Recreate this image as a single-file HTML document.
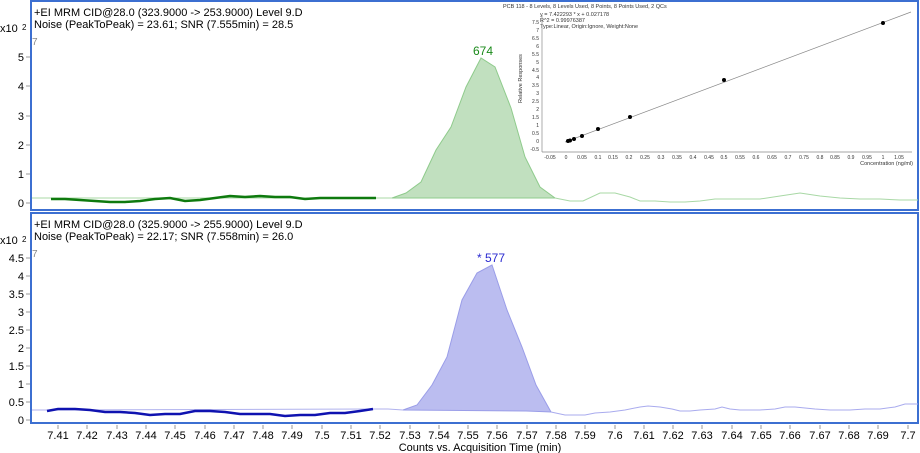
<!DOCTYPE html>
<html><head><meta charset="utf-8"><style>
html,body{margin:0;padding:0;background:#fff;}
svg{display:block;font-family:"Liberation Sans",sans-serif;}
</style></head><body>
<svg width="920" height="453" viewBox="0 0 920 453" xmlns="http://www.w3.org/2000/svg">
<rect width="920" height="453" fill="#fff"/>
<rect x="31" y="1" width="887" height="209" fill="none" stroke="#3c6fd1" stroke-width="2"/>
<rect x="31" y="213" width="887" height="210" fill="none" stroke="#3c6fd1" stroke-width="2"/>

<text x="34" y="16" font-size="11">+EI MRM CID@28.0 (323.9000 -&gt; 253.9000) Level 9.D</text>
<text x="34" y="28" font-size="11">Noise (PeakToPeak) = 23.61; SNR (7.555min) = 28.5</text>
<text x="0" y="32" font-size="11">x10</text><text x="22" y="30" font-size="8">2</text>
<text x="32" y="45" font-size="10" fill="#888">7</text>
<g font-size="11" text-anchor="end">
<text x="24" y="61">5</text><text x="24" y="90">4</text><text x="24" y="120">3</text><text x="24" y="149">2</text><text x="24" y="178">1</text><text x="24" y="207">0</text>
</g>
<g stroke="#999" stroke-width="1">
<line x1="26" y1="57" x2="30" y2="57"/><line x1="26" y1="86" x2="30" y2="86"/><line x1="26" y1="116" x2="30" y2="116"/><line x1="26" y1="145" x2="30" y2="145"/><line x1="26" y1="174" x2="30" y2="174"/><line x1="26" y1="203" x2="30" y2="203"/>
</g>
<polygon points="392,198 406,193 421,182 436,150 451,127 466,87 481,58 495,67 511,108 525,157 540,187 555,198" fill="#c1e0bf" stroke="#8fcb8c" stroke-width="1"/>
<polyline points="32,198 51,198 376,198 392,198" fill="none" stroke="#a8d8a5" stroke-width="1"/>
<polyline points="555,198 570,201 583,201 600,193 615,193 630,197 640,201 655,201 670,202 685,202 700,201 715,199 740,199 760,199 780,196 800,193 820,196 840,198 860,199 880,199 900,200 918,200" fill="none" stroke="#a8d8a5" stroke-width="1"/>
<polyline points="51,199 65,199 80,200 95,201 110,202 125,202 140,201 155,199 170,198 185,201 200,200 215,198 230,196 245,197 260,196 275,197 290,197 305,199 320,198 335,198 350,198 376,198" fill="none" stroke="#0e7a0e" stroke-width="2.5"/>
<text x="483" y="55" font-size="12" fill="#1a8a1a" text-anchor="middle">674</text>

<g font-size="5.5" fill="#333">
<text x="503" y="8">PCB 118 - 8 Levels, 8 Levels Used, 8 Points, 8 Points Used, 2 QCs</text>
<text x="540" y="16">y = 7.422293 * x + 0.027178</text>
<text x="540" y="22">R^2 = 0.99976387</text>
<text x="540" y="28">Type:Linear, Origin:Ignore, Weight:None</text>
<text x="913" y="165" text-anchor="end">Concentration (ng/ml)</text>
<text transform="translate(522,103) rotate(-90)">Relative Responses</text>
</g>
<line x1="542" y1="15" x2="542" y2="152" stroke="#888" stroke-width="0.7"/>
<line x1="542" y1="152" x2="912" y2="152" stroke="#888" stroke-width="0.7"/>
<g font-size="5" fill="#333" text-anchor="end">
<text x="539" y="24">7.5</text><text x="539" y="32">7</text><text x="539" y="40">6.5</text><text x="539" y="48">6</text><text x="539" y="56">5.5</text><text x="539" y="64">5</text><text x="539" y="72">4.5</text><text x="539" y="79">4</text><text x="539" y="87">3.5</text><text x="539" y="95">3</text><text x="539" y="103">2.5</text><text x="539" y="111">2</text><text x="539" y="119">1.5</text><text x="539" y="127">1</text><text x="539" y="135">0.5</text><text x="539" y="143">0</text><text x="539" y="151">-0.5</text>
</g>
<g font-size="5" fill="#333" text-anchor="middle">
<text x="550" y="159">-0.05</text><text x="566" y="159">0</text><text x="582" y="159">0.05</text><text x="598" y="159">0.1</text><text x="613" y="159">0.15</text><text x="629" y="159">0.2</text><text x="645" y="159">0.25</text><text x="661" y="159">0.3</text><text x="677" y="159">0.35</text><text x="693" y="159">0.4</text><text x="709" y="159">0.45</text><text x="724" y="159">0.5</text><text x="740" y="159">0.55</text><text x="756" y="159">0.6</text><text x="772" y="159">0.65</text><text x="788" y="159">0.7</text><text x="804" y="159">0.75</text><text x="820" y="159">0.8</text><text x="835" y="159">0.85</text><text x="851" y="159">0.9</text><text x="867" y="159">0.95</text><text x="883" y="159">1</text><text x="899" y="159">1.05</text>
</g>
<line x1="565" y1="142" x2="911" y2="12" stroke="#888" stroke-width="0.7"/>
<g fill="#000">
<circle cx="568" cy="141" r="2"/><circle cx="570" cy="140.5" r="2"/><circle cx="574" cy="139" r="2"/><circle cx="582" cy="136" r="2"/><circle cx="598" cy="129" r="2"/><circle cx="630" cy="117" r="2"/><circle cx="724" cy="80" r="2"/><circle cx="883" cy="23" r="2"/>
</g>

<text x="34" y="228" font-size="11">+EI MRM CID@28.0 (325.9000 -&gt; 255.9000) Level 9.D</text>
<text x="34" y="240" font-size="11">Noise (PeakToPeak) = 22.17; SNR (7.558min) = 26.0</text>
<text x="0" y="244" font-size="11">x10</text><text x="22" y="242" font-size="8">2</text>
<text x="32" y="257" font-size="10" fill="#888">7</text>
<g font-size="11" text-anchor="end">
<text x="24" y="262">4.5</text><text x="24" y="280">4</text><text x="24" y="298">3.5</text><text x="24" y="316">3</text><text x="24" y="334">2.5</text><text x="24" y="352">2</text><text x="24" y="370">1.5</text><text x="24" y="388">1</text><text x="24" y="406">0.5</text><text x="24" y="424">0</text>
</g>
<g stroke="#999" stroke-width="1">
<line x1="26" y1="258" x2="30" y2="258"/><line x1="26" y1="276" x2="30" y2="276"/><line x1="26" y1="294" x2="30" y2="294"/><line x1="26" y1="312" x2="30" y2="312"/><line x1="26" y1="330" x2="30" y2="330"/><line x1="26" y1="348" x2="30" y2="348"/><line x1="26" y1="366" x2="30" y2="366"/><line x1="26" y1="384" x2="30" y2="384"/><line x1="26" y1="402" x2="30" y2="402"/><line x1="26" y1="420" x2="30" y2="420"/>
</g>
<polygon points="403,410 417,405 432,385 447,357 462,300 477,273 492,265 507,310 522,347 536,385 551,412 526,411 403,410" fill="#bbbdf0" stroke="#9a9de8" stroke-width="1"/>
<polyline points="32,410 47,410 373,409 388,409 403,410" fill="none" stroke="#b0b2ee" stroke-width="1"/>
<polyline points="551,412 565,415 585,415 595,413 610,412 625,410 640,407 648,406 660,407 672,409 680,411 690,411 700,410 715,409 722,407 730,409 740,410 760,410 775,409 785,407 795,407 805,408 815,409 830,410 850,410 865,409 880,409 895,407 905,404 918,404" fill="none" stroke="#a9abee" stroke-width="1"/>
<polyline points="47,411 58,409 75,409 90,410 105,412 120,412 135,413 150,415 165,414 180,414 195,411 210,411 225,412 240,414 255,414 270,414 285,416 300,415 315,415 330,413 345,413 360,411 373,409" fill="none" stroke="#0f12b0" stroke-width="2.5"/>
<text x="491" y="262" font-size="12" fill="#2a2ad0" text-anchor="middle">* 577</text>

<g stroke="#999" stroke-width="1">
<line x1="58" y1="425" x2="58" y2="429"/><line x1="87" y1="425" x2="87" y2="429"/><line x1="117" y1="425" x2="117" y2="429"/><line x1="146" y1="425" x2="146" y2="429"/><line x1="175" y1="425" x2="175" y2="429"/><line x1="205" y1="425" x2="205" y2="429"/><line x1="234" y1="425" x2="234" y2="429"/><line x1="263" y1="425" x2="263" y2="429"/><line x1="292" y1="425" x2="292" y2="429"/><line x1="322" y1="425" x2="322" y2="429"/><line x1="351" y1="425" x2="351" y2="429"/><line x1="380" y1="425" x2="380" y2="429"/><line x1="410" y1="425" x2="410" y2="429"/><line x1="439" y1="425" x2="439" y2="429"/><line x1="468" y1="425" x2="468" y2="429"/><line x1="497" y1="425" x2="497" y2="429"/><line x1="527" y1="425" x2="527" y2="429"/><line x1="556" y1="425" x2="556" y2="429"/><line x1="585" y1="425" x2="585" y2="429"/><line x1="615" y1="425" x2="615" y2="429"/><line x1="644" y1="425" x2="644" y2="429"/><line x1="673" y1="425" x2="673" y2="429"/><line x1="702" y1="425" x2="702" y2="429"/><line x1="732" y1="425" x2="732" y2="429"/><line x1="761" y1="425" x2="761" y2="429"/><line x1="790" y1="425" x2="790" y2="429"/><line x1="820" y1="425" x2="820" y2="429"/><line x1="849" y1="425" x2="849" y2="429"/><line x1="878" y1="425" x2="878" y2="429"/><line x1="908" y1="425" x2="908" y2="429"/>
</g>
<g font-size="11" text-anchor="middle">
<text x="58" y="439">7.41</text><text x="87" y="439">7.42</text><text x="117" y="439">7.43</text><text x="146" y="439">7.44</text><text x="175" y="439">7.45</text><text x="205" y="439">7.46</text><text x="234" y="439">7.47</text><text x="263" y="439">7.48</text><text x="292" y="439">7.49</text><text x="322" y="439">7.5</text><text x="351" y="439">7.51</text><text x="380" y="439">7.52</text><text x="410" y="439">7.53</text><text x="439" y="439">7.54</text><text x="468" y="439">7.55</text><text x="497" y="439">7.56</text><text x="527" y="439">7.57</text><text x="556" y="439">7.58</text><text x="585" y="439">7.59</text><text x="615" y="439">7.6</text><text x="644" y="439">7.61</text><text x="673" y="439">7.62</text><text x="702" y="439">7.63</text><text x="732" y="439">7.64</text><text x="761" y="439">7.65</text><text x="790" y="439">7.66</text><text x="820" y="439">7.67</text><text x="849" y="439">7.68</text><text x="878" y="439">7.69</text><text x="908" y="439">7.7</text>
<text x="480" y="451">Counts vs. Acquisition Time (min)</text>
</g>
</svg>
</body></html>
